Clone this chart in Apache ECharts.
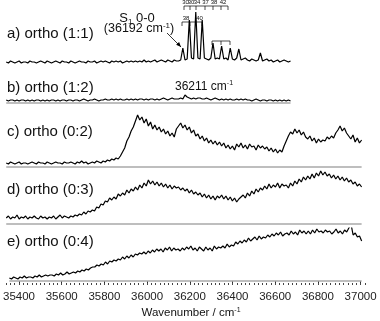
<!DOCTYPE html>
<html><head><meta charset="utf-8">
<script src="https://cdn.jsdelivr.net/npm/echarts@6/dist/echarts.min.js"></script>
<style>html,body{margin:0;padding:0;background:#fff}#c{width:380px;height:321px}</style>
</head><body><div id="c"></div>
<script>
// sampling grid of the spectra (cm-1)
const START = 35355, STEP = 10;

// a) ortho (1:1)  — 35355 .. 36675
const panelA = [
 2,1,3,2,1,2,3,1,2,2, 1,3,2,2,1,2,3,2,1,3, 2,1,2,3,2,1,3,2,2,1, 3,2,1,2,3,2,2,1,3,2,
 2,3,1,2,3,2,3,2,1,3, 2,3,2,3,1,2,3,2,3,2, 3,2,3,2,4,2,3,2,3,4, 2,3,4,3,2,4,3,2,4,3,
 3,4,16,4,5,44,6,5,52,6, 5,44,6,5,4,6,21,5,6,5, 18,5,6,4,16,5,4,6,15,4,
 5,6,4,3,5,4,3,4,11,3, 4,5,3,4,2,3,4,2,3,4, 3,2,3
];
// b) ortho (1:2)
const panelB = [
 3,2,3,3,2,3,2,3,3,2, 3,2,3,2,3,3,2,3,2,3, 2,3,3,2,3,2,3,3,2,3, 3,2,3,3,2,3,4,3,2,3,
 3,4,3,2,3,3,4,3,3,4, 3,4,3,4,3,3,4,3,4,3, 4,3,4,4,3,4,3,4,4,3, 4,3,4,5,4,3,4,5,4,4,
 4,5,4,8,6,5,4,5,4,5, 5,4,4,5,4,3,4,5,4,3, 4,3,4,3,4,3,3,4,3,4, 3,4,3,3,2,3,4,3,2,3,
 3,2,3,3,2,3,2,3,2,3, 2,3,2
];
// c) ortho (0:2)  — 35355 .. 37005
const panelC = [
 4,3,5,4,3,4,5,3,4,4, 3,4,5,4,3,5,4,4,3,5, 4,3,4,5,4,4,3,5,4,4, 5,4,3,5,4,6,4,5,3,4,
 5,4,6,5,4,6,5,7,6,8, 7,9,8,11,15,19,26,30,36,40, 46,52,47,50,44,48,41,45,38,42,
 37,40,35,38,33,36,31,34,30,38, 41,44,39,42,37,40,34,37,31,33, 28,31,26,29,24,27,23,26,22,25,
 21,24,19,22,18,21,17,23,20,24, 19,22,18,23,20,21,17,22,19,21, 18,20,16,19,15,18,14,17,15,21,
 26,31,35,33,38,34,37,32,35,30, 28,31,26,29,24,28,25,27,26,30, 28,31,29,34,37,41,36,39,34,31,
 28,32,25,29,24,27
];
// d) ortho (0:3)
const panelD = [
 6,8,5,7,6,9,5,7,6,8, 5,7,6,8,6,5,8,6,7,5, 7,6,8,5,7,9,6,8,7,6, 8,7,9,8,10,9,12,10,13,12,
 14,13,17,16,20,19,23,22,26,24, 27,25,30,28,31,29,34,31,35,33, 37,34,39,36,41,38,44,40,43,39,
 42,38,41,37,40,36,39,35,38,36, 37,34,36,33,35,31,34,30,32,29, 31,27,30,26,29,25,28,24,28,26,
 29,25,28,24,27,23,26,22,25,27, 29,26,31,28,33,30,35,32,36,34, 38,35,40,36,39,37,41,36,40,38,
 39,36,41,38,43,40,45,42,47,44, 48,45,50,46,51,48,53,49,52,48, 50,46,49,45,48,44,47,43,46,42,
 44,40,42,38,40,37
];
// e) ortho (0:4)
const panelE = [
 3,2,4,3,2,4,3,5,3,4, 4,3,5,4,6,4,5,6,5,6, 6,5,7,6,8,6,7,9,7,8, 9,8,10,9,11,10,12,11,13,14,
 14,16,15,17,16,19,17,20,19,21, 20,22,21,24,22,25,23,26,24,27, 26,28,27,29,27,30,28,31,29,32,
 30,32,29,33,31,34,30,33,31,32, 30,33,31,34,32,35,31,33,30,34, 32,30,34,31,33,30,35,32,34,33,
 35,33,37,34,36,35,39,37,40,38, 41,39,43,40,42,44,41,45,42,44, 43,46,44,47,45,48,46,49,45,47,
 48,46,50,47,49,46,51,48,50,47, 50,47,51,48,52,49,50,48,51,49, 50,47,49,52,48,50,47,51,49,53,
 57,46,48,44,45,40
];

const tickLabels = [35400,35600,35800,36000,36200,36400,36600,36800,37000];
const panelNames = ['a) ortho (1:1)','b) ortho (1:2)','c) ortho (0:2)','d) ortho (0:3)','e) ortho (0:4)'];
const panels = [panelA, panelB, panelC, panelD, panelE];
const hasBaseline = [false, true, true, true, true];

const minorTicks = [];
for (let v = 35340; v <= 37020; v += 20) minorTicks.push(v);

// layout
const X_MIN = 35340, X_MAX = 37030;
const gridTop = [5, 90, 110, 170, 228];
const gridH = [61, 15, 59, 56, 55];
const yMax = [59, 13, 57, 54, 53];
const labelY = [34, 88, 132, 190, 242];
const FONT = '"Liberation Sans", Arial, Helvetica, sans-serif';

const toPairs = vals => vals.map((v, i) => [START + STEP * i, v]);

const grids = [], xAxes = [], yAxes = [], series = [];
panels.forEach((vals, k) => {
  grids.push({left: 3, right: 13, top: gridTop[k], height: gridH[k]});
  const isLast = k === panels.length - 1;
  xAxes.push({
    type: 'value', gridIndex: k, min: X_MIN, max: X_MAX,
    show: isLast,
    axisLine: {show: false},
    splitLine: {show: false},
    axisTick: {show: isLast, customValues: tickLabels, length: 4, lineStyle: {color: '#333', width: 1}},
    axisLabel: {show: isLast, customValues: tickLabels, margin: 8, fontSize: 11.5, color: '#222', fontFamily: FONT,
                formatter: v => String(v)}
  });
  yAxes.push({type: 'value', gridIndex: k, min: -2, max: yMax[k], show: false});
  const pairs = toPairs(vals);
  if (hasBaseline[k]) {
    series.push({
      type: 'line', xAxisIndex: k, yAxisIndex: k, symbol: 'none', silent: true, z: 1,
      lineStyle: {color: '#a8a8a8', width: 1.5},
      data: [[pairs[0][0], 0], [pairs[pairs.length - 1][0], 0]]
    });
  }
  series.push({
    type: 'line', xAxisIndex: k, yAxisIndex: k, symbol: 'none', z: 2,
    lineStyle: {color: '#000', width: 1.2},
    data: pairs
  });
});
// minor ticks axis on the bottom grid
xAxes.push({
  type: 'value', gridIndex: 4, min: X_MIN, max: X_MAX, position: 'bottom',
  axisLine: {show: false}, splitLine: {show: false},
  axisTick: {show: true, customValues: minorTicks, length: 2, lineStyle: {color: '#444', width: 1}},
  axisLabel: {show: false}
});

const txt = (x, y, text, size, align, rich) => ({
  type: 'text', silent: true,
  style: {x, y, text, fill: '#111', font: size + 'px ' + FONT, fontSize: size, fontFamily: FONT,
          textAlign: align || 'left', align: align || 'left',
          textVerticalAlign: 'middle', verticalAlign: 'middle', rich}
});
const supRich = (size) => ({
  m: {fontSize: size, fontFamily: FONT, fill: '#111', lineHeight: size + 2},
  s: {fontSize: Math.round(size * 0.62), fontFamily: FONT, fill: '#111', verticalAlign: 'top', lineHeight: size + 2}
});
const subRich = (size) => ({
  m: {fontSize: size, fontFamily: FONT, fill: '#111', lineHeight: size + 3},
  s: {fontSize: Math.round(size * 0.62), fontFamily: FONT, fill: '#111', verticalAlign: 'bottom', lineHeight: size + 3}
});
const line = (pts, w) => ({type: 'polyline', silent: true, shape: {points: pts}, style: {stroke: '#000', lineWidth: w || 0.7, fill: null}});

const graphics = [];
panelNames.forEach((n, k) => graphics.push(txt(7, labelY[k], n, 15)));
graphics.push(txt(137, 18, '{m|S}{s|1}{m| 0-0}', 13, 'center', subRich(13)));
graphics.push(txt(139, 29, '{m|(36192 cm}{s|-1}{m|)}', 12.5, 'center', supRich(12.5)));
graphics.push(txt(175, 87, '{m|36211 cm}{s|-1}', 12, 'left', supRich(12)));
graphics.push(txt(191, 313, '{m|Wavenumber / cm}{s|-1}', 11.5, 'center', supRich(11.5)));
// arrow to S1 origin
graphics.push(line([[167, 33], [181, 47]], 0.8));
graphics.push({type: 'polygon', silent: true, shape: {points: [[181, 47], [176.1, 44.7], [179.1, 42.0]]}, style: {fill: '#000'}});
// progression brackets
const topLab = [['30', 185.5], ['30', 191], ['34', 197], ['37', 205.5], ['38', 214], ['42', 223]];
topLab.forEach(([t, x]) => graphics.push(txt(x, 2.5, t, 6, 'center')));
graphics.push(line([[184, 6], [228, 6]]));
[184, 190, 196, 205, 213, 221, 228].forEach(x => graphics.push(line([[x, 6], [x, 10]])));
graphics.push(txt(186, 18.5, '38', 6, 'center'));
graphics.push(txt(199.5, 18.5, '40', 6, 'center'));
graphics.push(line([[182, 22], [202, 22]]));
[182, 190, 202].forEach(x => graphics.push(line([[x, 22], [x, 26]])));
graphics.push(line([[212, 41], [230, 41]]));
[212, 221, 230].forEach(x => graphics.push(line([[x, 41], [x, 45]])));

const chart = echarts.init(document.getElementById('c'), null, {renderer: 'canvas'});
chart.setOption({
  animation: false,
  backgroundColor: '#fff',
  grid: grids, xAxis: xAxes, yAxis: yAxes, series,
  graphic: graphics
});
</script></body></html>
